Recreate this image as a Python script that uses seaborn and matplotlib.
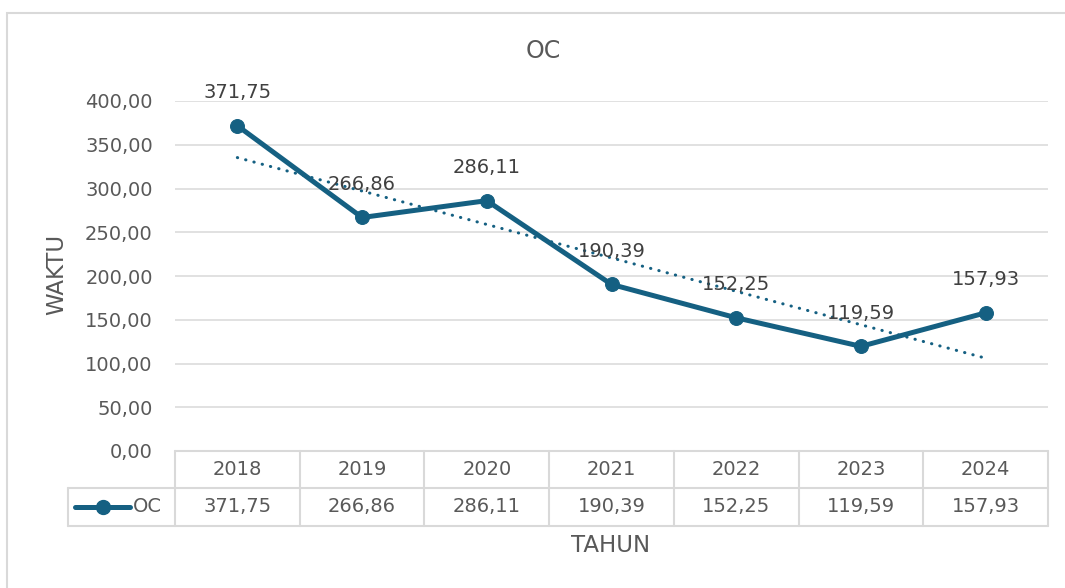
import numpy as np
import pandas as pd
import matplotlib.pyplot as plt
import matplotlib.transforms as mtransforms
from matplotlib.patches import Rectangle
import seaborn as sns

# data
years = ["2018", "2019", "2020", "2021", "2022", "2023", "2024"]
oc_values = [371.75, 266.86, 286.11, 190.39, 152.25, 119.59, 157.93]
y_ticks = [0, 50, 100, 150, 200, 250, 300, 350, 400]
series_name = "OC"

def fmt(v):
    return f"{v:.2f}".replace(".", ",")

sns.set_style("white")
plt.rcParams["font.family"] = ["DejaVu Sans"]

BLUE = "#156082"
TXT = "#595959"
GRID = "#d9d9d9"

df = pd.DataFrame({"pos": np.arange(len(years)), "val": oc_values})

fig = plt.figure(figsize=(10.65, 5.88), dpi=100)
ax = fig.add_axes([175 / 1065, 1 - 451 / 588, 873 / 1065, 350 / 588])

# outer chart border
fig.patches.append(Rectangle((7 / 1065, -0.1), 2, 1 - 13 / 588 + 0.1,
                             transform=fig.transFigure, fill=False,
                             edgecolor=GRID, lw=1.5))

# gridlines
for t in y_ticks[1:]:
    ax.axhline(t, color=GRID, lw=1.1, zorder=0)

# linear trendline
coef = np.polyfit(df["pos"] + 1, df["val"], 1)
trend = np.polyval(coef, df["pos"] + 1)
ax.plot(df["pos"], trend, color=BLUE, lw=2.2,
        linestyle=(0, (0.1, 2.7)), dash_capstyle="round", zorder=2)

sns.lineplot(data=df, x="pos", y="val", ax=ax, color=BLUE, lw=3.6,
             marker="o", markersize=10, markeredgecolor=BLUE, zorder=3)

for x, v in zip(df["pos"], oc_values):
    ax.annotate(fmt(v), (x, v), xytext=(0, 24), textcoords="offset points",
                ha="center", va="center", fontsize=14, color="#404040")

ax.set_xlim(-0.5, len(years) - 0.5)
ax.set_ylim(0, 400)
ax.set_yticks(y_ticks)
ax.set_yticklabels([fmt(t) for t in y_ticks], fontsize=14, color=TXT)
ax.tick_params(axis="y", length=0, pad=16)
ax.set_xticks([])
ax.set_xlabel("")
ax.set_ylabel("")
for s in ax.spines.values():
    s.set_visible(False)

# data table below the axis
tr = mtransforms.blended_transform_factory(ax.transData, ax.transAxes)
r1 = -37 / 350
r2 = -74.5 / 350
left = -0.5 - 107 / 124.7
n = len(years)
kw = dict(color=GRID, lw=1.5, transform=tr, clip_on=False, zorder=1)
ax.plot([-0.5, n - 0.5], [0, 0], **kw)
ax.plot([left, n - 0.5], [r1, r1], **kw)
ax.plot([left, n - 0.5], [r2, r2], **kw)
ax.plot([left, left], [r1, r2], **kw)
for i in range(n + 1):
    ax.plot([i - 0.5, i - 0.5], [0, r2], **kw)
for i, (yr, v) in enumerate(zip(years, oc_values)):
    ax.text(i, r1 / 2, yr, transform=tr, ha="center", va="center",
            fontsize=14, color=TXT)
    ax.text(i, (r1 + r2) / 2, fmt(v), transform=tr, ha="center",
            va="center", fontsize=14, color=TXT)

# legend key in the table header
ym = (r1 + r2) / 2
ax.plot([-1.302, -0.861], [ym, ym], color=BLUE, lw=3.6, transform=tr,
        clip_on=False, solid_capstyle="round")
ax.plot([-1.081], [ym], "o", color=BLUE, markersize=10, transform=tr,
        clip_on=False)
ax.text(-0.835, ym, series_name, transform=tr, ha="left", va="center",
        fontsize=14, color=TXT)

fig.text(543 / 1065, 1 - 51 / 588, series_name, ha="center", va="center",
         fontsize=17, color=TXT)
fig.text(611 / 1065, 1 - 546 / 588, "TAHUN", ha="center", va="center",
         fontsize=16.5, color=TXT)
fig.text(57 / 1065, 1 - 274 / 588, "WAKTU", ha="center", va="center",
         rotation=90, fontsize=16.5, color=TXT)

fig.savefig("out.png", dpi=100)
